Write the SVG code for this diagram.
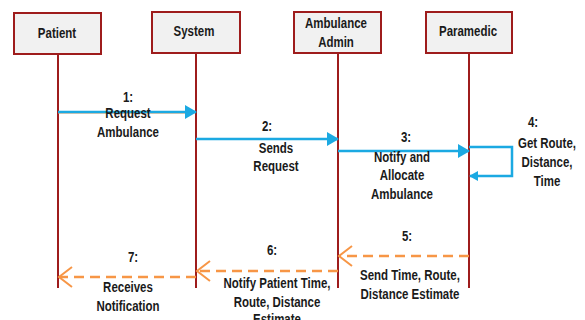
<svg xmlns="http://www.w3.org/2000/svg" width="585" height="320" viewBox="0 0 585 320">
<style>
.box{fill:#f1f1f1;stroke:#9e1c1c;stroke-width:2}
.life{stroke:#9e1c1c;stroke-width:2}
text{font-family:"Liberation Sans",Arial,sans-serif;font-weight:bold;font-size:14px;fill:#1a1a1a;text-anchor:middle}
.blue{stroke:#1ba9e2;stroke-width:2.5;fill:none}
.orange{stroke:#f79646;stroke-width:2.5;fill:none;stroke-dasharray:10,6}
</style>
<defs>
<marker id="ab" markerWidth="12" markerHeight="14" refX="11" refY="7" orient="auto" markerUnits="userSpaceOnUse">
<path d="M0,0 L12,7 L0,14 Z" fill="#1ba9e2"/>
</marker>
<marker id="abs" markerWidth="9" markerHeight="10" refX="8" refY="5" orient="auto" markerUnits="userSpaceOnUse">
<path d="M0,0 L9,5 L0,10 Z" fill="#1ba9e2"/>
</marker>
<marker id="ao" markerWidth="16" markerHeight="22" refX="14" refY="11" orient="auto" markerUnits="userSpaceOnUse">
<path d="M1,1 L14,11 L1,21" fill="none" stroke="#f79646" stroke-width="2"/>
</marker>
</defs>
<g id="patient"><rect class="box" x="14" y="13" width="87" height="41"/><line class="life" x1="58" y1="54" x2="58" y2="288"/><text transform="translate(57,38) scale(0.82,1)">Patient</text></g>
<g id="system"><rect class="box" x="152" y="12" width="88" height="41"/><line class="life" x1="196" y1="53" x2="196" y2="288"/><text transform="translate(194,36) scale(0.82,1)">System</text></g>
<g id="admin"><rect class="box" x="294" y="12" width="87" height="41"/><line class="life" x1="338" y1="53" x2="338" y2="288"/><text transform="translate(336,28) scale(0.82,1)">Ambulance</text><text transform="translate(336,47) scale(0.82,1)">Admin</text></g>
<g id="paramedic"><rect class="box" x="426" y="12" width="86" height="41"/><line class="life" x1="469" y1="53" x2="469" y2="288"/><text transform="translate(468,36) scale(0.82,1)">Paramedic</text></g>
<g id="connectors">
<line x1="58" y1="113" x2="186" y2="113" stroke="#f79646" stroke-width="1"/>
<line class="blue" x1="58" y1="112" x2="196" y2="112" marker-end="url(#ab)"/>
<line class="blue" x1="196" y1="139" x2="338" y2="139" marker-end="url(#ab)"/>
<line class="blue" x1="338" y1="151" x2="469" y2="151" marker-end="url(#ab)"/>
<polyline class="blue" points="469,147 512,147 512,176 470,176" marker-end="url(#abs)"/>
<line class="orange" x1="469" y1="256" x2="339" y2="256" marker-end="url(#ao)"/>
<line class="orange" x1="338" y1="271" x2="197" y2="271" marker-end="url(#ao)"/>
<line class="orange" x1="196" y1="277" x2="59" y2="277" marker-end="url(#ao)"/>
</g>
<g id="labels">
<text transform="translate(128,102) scale(0.82,1)">1:</text><text transform="translate(128,118) scale(0.82,1)">Request</text><text transform="translate(128,137) scale(0.82,1)">Ambulance</text>
<text transform="translate(267,131) scale(0.82,1)">2:</text><text transform="translate(276,153) scale(0.82,1)">Sends</text><text transform="translate(276,171) scale(0.82,1)">Request</text>
<text transform="translate(406,142) scale(0.82,1)">3:</text><text transform="translate(402,162) scale(0.82,1)">Notify and</text><text transform="translate(402,180) scale(0.82,1)">Allocate</text><text transform="translate(402,199) scale(0.82,1)">Ambulance</text>
<text transform="translate(533,127) scale(0.82,1)">4:</text><text transform="translate(547,148) scale(0.82,1)">Get Route,</text><text transform="translate(547,167) scale(0.82,1)">Distance,</text><text transform="translate(547,186) scale(0.82,1)">Time</text>
<text transform="translate(407,241) scale(0.82,1)">5:</text><text transform="translate(410,280) scale(0.82,1)">Send Time, Route,</text><text transform="translate(410,299) scale(0.82,1)">Distance Estimate</text>
<text transform="translate(272,255) scale(0.82,1)">6:</text><text transform="translate(277,288) scale(0.82,1)">Notify Patient Time,</text><text transform="translate(277,307) scale(0.82,1)">Route, Distance</text><text transform="translate(277,324) scale(0.82,1)">Estimate</text>
<text transform="translate(133,262) scale(0.82,1)">7:</text><text transform="translate(128,292) scale(0.82,1)">Receives</text><text transform="translate(128,311) scale(0.82,1)">Notification</text>
</g>
</svg>
